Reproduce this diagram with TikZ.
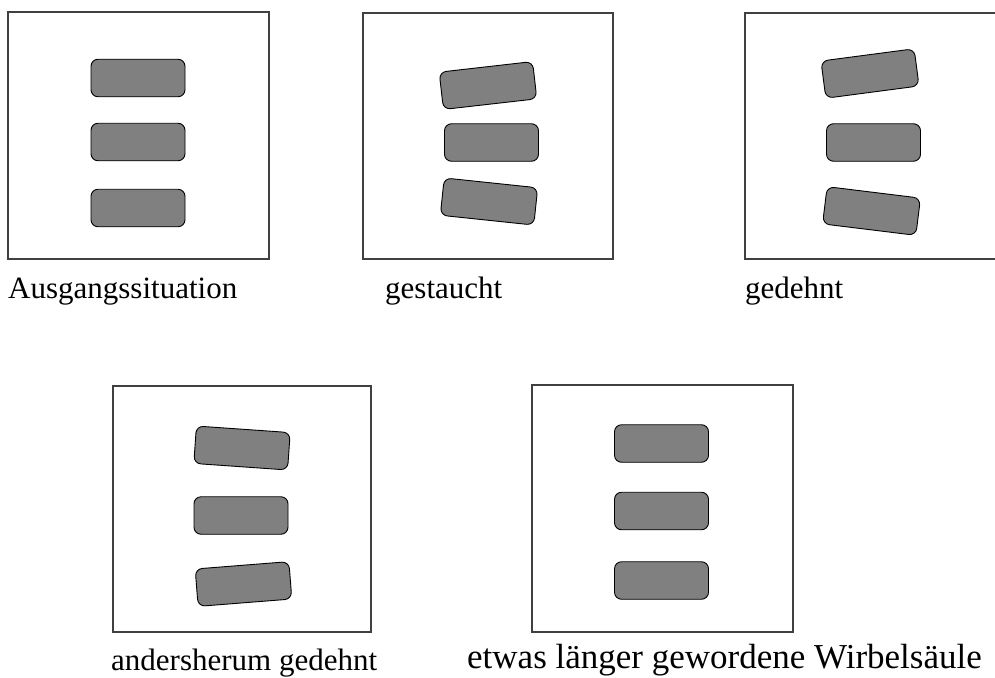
\documentclass[tikz,border=0pt]{standalone}
\usepackage{fontspec}
\setmainfont{Liberation Serif}
\begin{document}
\begin{tikzpicture}[x=1pt,y=-1pt,
  frame/.style={draw=black!75,line width=1.2pt},
  disc/.style={draw=black,line width=0.9pt,fill=black!50,rectangle,rounded corners=7pt,
    minimum width=94pt,minimum height=37.5pt,inner sep=0pt},
  lab/.style={anchor=base west,inner sep=0pt,font=\fontsize{31}{36}\selectfont}]
\useasboundingbox (0,0) rectangle (995,677);
\clip (0,0) rectangle (995,677);
% panel 1
\draw[frame] (8,12) rectangle (269,259);
\node[disc] (a1) at (138,78) {};
\node[disc] (a2) at (138,142) {};
\node[disc] (a3) at (138,208) {};
\node[lab] (la) at (8,298) {Ausgangssituation};
% panel 2
\draw[frame] (363,13) rectangle (613,259);
\node[disc,rotate=6.5] (b1) at (488,85.5) {};
\node[disc] (b2) at (491.5,142.5) {};
\node[disc,rotate=-6] (b3) at (489,201.5) {};
\node[lab] (lb) at (385,298) {gestaucht};
% panel 3
\draw[frame] (745,13) rectangle (1010,259);
\node[disc,rotate=7.5] (c1) at (870,73.5) {};
\node[disc] (c2) at (873.5,142.5) {};
\node[disc,rotate=-7] (c3) at (871.5,211) {};
\node[lab] (lc) at (745,298) {gedehnt};
% panel 4
\draw[frame] (113,386) rectangle (371,632);
\node[disc,rotate=-4] (d1) at (242,448) {};
\node[disc] (d2) at (241,515.5) {};
\node[disc,rotate=4.5] (d3) at (243.5,584) {};
\node[lab] (ld) at (111,670) {andersherum gedehnt};
% panel 5
\draw[frame] (532,385) rectangle (793,632);
\node[disc] (e1) at (661.5,443.5) {};
\node[disc] (e2) at (661.5,511) {};
\node[disc] (e3) at (661.5,580.5) {};
\node[lab,font=\fontsize{35}{40}\selectfont] (le) at (467,668.5) {etwas länger gewordene Wirbelsäule};
\end{tikzpicture}
\end{document}
